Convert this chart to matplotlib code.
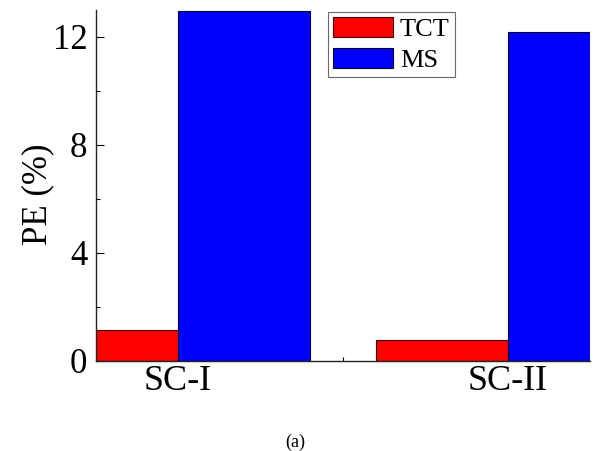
import numpy as np
import matplotlib
matplotlib.use('Agg')
from matplotlib import pyplot as plt
from matplotlib.ticker import MultipleLocator

# data
groups = ['SC-I', 'SC-II']
tct = [1.15, 0.78]
ms = [12.95, 12.2]

plt.rcParams['font.family'] = ['Liberation Serif', 'DejaVu Serif']

fig = plt.figure(figsize=(5.95, 4.51), dpi=100)
ax = fig.add_axes([0.161, 0.1996, 0.8306, 0.7784])

x = np.arange(1, len(groups) + 1)
w = 0.4
ax.bar(x - w / 2, tct, w, color='#ff0000', edgecolor='#3a0000', linewidth=0.8, label='TCT')
ax.bar(x + w / 2, ms, w, color='#0000ff', edgecolor='#000033', linewidth=0.8, label='MS')

ax.set_xlim(0.75, 2.25)
ax.set_ylim(0, 13)
ax.set_xticks(x)
ax.set_xticklabels(groups, fontsize=26)
ax.set_yticks([0, 4, 8, 12])
ax.tick_params(axis='y', labelsize=25)
ax.xaxis.set_minor_locator(MultipleLocator(0.5))
ax.yaxis.set_minor_locator(MultipleLocator(2))
ax.tick_params(which='both', direction='in', width=0.8)
ax.tick_params(which='major', length=6)
ax.tick_params(which='minor', length=3)
ax.tick_params(axis='x', pad=3)
ax.tick_params(axis='y', pad=6)

for s in ['top', 'right']:
    ax.spines[s].set_visible(False)
for s in ['left', 'bottom']:
    ax.spines[s].set_linewidth(1.0)
    ax.spines[s].set_color('#222222')

ax.set_ylabel('PE (%)', fontsize=25, labelpad=-1, y=0.475)

leg = ax.legend(loc='upper left', bbox_to_anchor=(0.47, 0.995), fontsize=19,
                frameon=True, fancybox=False, edgecolor='#444444',
                handlelength=2.27, handleheight=0.8, handletextpad=0.25,
                labelspacing=0.25, borderpad=0.2, borderaxespad=0)
leg.get_frame().set_linewidth(0.8)

fig.text(0.497, 0.0, '(a)', ha='center', va='bottom', fontsize=13)

plt.savefig('out.png', dpi=100)
